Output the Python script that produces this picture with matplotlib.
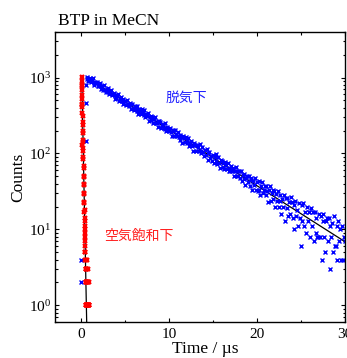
import numpy as np
import matplotlib
matplotlib.use("Agg")
import matplotlib.pyplot as plt
from matplotlib.ticker import LogLocator, MultipleLocator, NullFormatter

plt.rcParams['font.family'] = ['Liberation Serif', 'DejaVu Serif']
plt.rcParams['mathtext.fontset'] = 'custom'
plt.rcParams['mathtext.rm'] = 'Liberation Serif'
plt.rcParams['mathtext.it'] = 'Liberation Serif:italic'

# ---------------- data ----------------
title = "BTP in MeCN"
xlabel = "Time / µs"
ylabel = "Counts"
label_degassed = "脱気下"
label_air = "空気飽和下"

# degassed (blue) decay, sampled every 0.1 us from 0.6 to 30.0 us
blue_t_start, blue_t_stop, blue_t_step = 0.6, 30.0, 0.1
blue_counts = [
    972, 1025, 910, 971,
    992, 865, 932, 980, 848, 791, 888, 840, 883, 771,
    766, 840, 702, 773, 783, 696, 800, 695, 648, 712,
    735, 649, 605, 666, 698, 588, 608, 628, 523, 590,
    541, 581, 600, 491, 542, 559, 493, 449, 521, 488,
    499, 439, 515, 447, 427, 463, 443, 388, 448, 396,
    369, 418, 392, 420, 364, 331, 392, 367, 336, 386,
    349, 319, 371, 302, 333, 308, 337, 271, 299, 309,
    277, 304, 254, 288, 300, 252, 256, 266, 222, 270,
    261, 214, 241, 244, 217, 255, 211, 201, 222, 205,
    196, 220, 195, 172, 205, 197, 169, 203, 180, 168,
    193, 164, 176, 150, 165, 137, 168, 160, 141, 167,
    137, 151, 162, 124, 137, 147, 125, 109, 137, 129,
    129, 107, 131, 120, 108, 132, 108, 100, 120, 104,
    93, 110, 97, 113, 82, 101, 104, 86, 93, 79,
    96, 75, 89, 80, 98, 72, 90, 76, 65, 81,
    79, 67, 74, 62, 78, 71, 63, 76, 58, 65,
    58, 69, 59, 64, 51, 59, 66, 50, 58, 51,
    59, 48, 59, 43, 52, 46, 53, 38, 47, 50,
    42, 51, 37, 45, 47, 33, 43, 38, 48, 33,
    42, 32, 43, 33, 28, 37, 42, 30, 33, 37,
    28, 37, 32, 23, 33, 37, 24, 30, 25, 33,
    32, 20, 29, 24, 32, 20, 24, 28, 16, 25,
    20, 28, 13, 26, 19, 26, 15, 23, 16, 27,
    23, 14, 21, 10, 24, 15, 18, 11, 22, 14,
    6, 21, 13, 22, 11, 17, 9, 20, 13, 17,
    17, 8, 19, 11, 17, 7, 17, 9, 14, 8,
    8, 16, 8, 15, 4, 13, 16, 8, 5, 13,
    14, 7, 14, 3, 11, 8, 12, 5, 15, 6,
    6, 11, 4, 13, 7, 10, 4, 11, 4, 8,
    7,
]
# blue points before / during the rise
blue_rise_time = [0.0, 0.02, 0.55, 0.56, 0.57]
blue_rise_counts = [4, 2, 145, 465, 790]

# air-saturated (red) decay, sampled every 0.01 us from 0.03 to 0.90 us
red_t_start, red_t_stop, red_t_step = 0.03, 0.90, 0.01
red_counts = [
    130, 430, 810, 1005, 905, 770, 695,
    590, 531, 449, 409, 343, 312, 262, 241, 201, 185,
    152, 142, 117, 109, 89, 84, 68, 64, 51, 49,
    40, 38, 30, 29, 23, 22, 17, 18, 13, 14,
    10, 11, 8, 9, 6, 7, 5, 4, 5, 3,
    4, 2, 3, 2, 1, 2, 1, 3, 1, 0,
    2, 1, 4, 0, 1, 2, 0, 1, 3, 0,
    1, 0, 2, 1, 0, 1, 3, 0, 0, 1,
    2, 0, 1, 0, 0, 2, 1, 0, 1, 0,
    1,
]

# single-exponential fits (amplitude, lifetime in us, start, end)
blue_fit_amp, blue_fit_tau, blue_fit_t0, blue_fit_t1 = 1120.0, 5.9, 0.6, 30.0
red_fit_amp, red_fit_tau, red_fit_tshift, red_fit_t0, red_fit_t1 = 1020.0, 0.075, 0.06, 0.06, 0.62

xticks = [0, 10, 20, 30]

# ---------------- figure ----------------
fig = plt.figure(figsize=(3.47, 3.58), dpi=100)
ax = fig.add_axes([54.5 / 347, 36 / 358, (344.5 - 54.5) / 347, (326 - 36) / 358])

blue_time = np.round(np.arange(blue_t_start, blue_t_stop + blue_t_step / 2, blue_t_step), 3)
red_time = np.round(np.arange(red_t_start, red_t_stop + red_t_step / 2, red_t_step), 3)
bc = np.array(blue_counts, dtype=float)
rc = np.array(red_counts, dtype=float)

# fit lines (below markers)
tb = np.linspace(blue_fit_t0, blue_fit_t1, 300)
ax.plot(tb, blue_fit_amp * np.exp(-tb / blue_fit_tau), color='black', lw=0.9, zorder=1)
tr = np.linspace(red_fit_t0, red_fit_t1, 200)
ax.plot(tr, red_fit_amp * np.exp(-(tr - red_fit_tshift) / red_fit_tau), color='black', lw=0.9, zorder=1)

m = bc > 0
ax.plot(blue_time[m], bc[m], ls='none', marker='x', color='#0000ff', ms=3.2, mew=1.0, zorder=2)
ax.plot(blue_rise_time, blue_rise_counts, ls='none', marker='x', color='#0000ff', ms=3.2, mew=1.0, zorder=2)
m = rc > 0
ax.plot(red_time[m], rc[m], ls='none', marker='x', color='#ff0000', ms=3.2, mew=1.6, zorder=3)

ax.set_yscale('log')
ax.set_xlim(-3.05, 30)
ax.set_ylim(0.6, 4000)

ax.set_xticks(xticks)
ax.xaxis.set_minor_locator(MultipleLocator(5))
ax.yaxis.set_major_locator(LogLocator(base=10, numticks=10))
ax.yaxis.set_minor_locator(LogLocator(base=10, subs=np.arange(2, 10), numticks=20))
ax.yaxis.set_minor_formatter(NullFormatter())

ax.tick_params(which='both', direction='in', top=True, right=True, width=0.8)
ax.tick_params(which='major', length=3.2, labelsize=11)
ax.tick_params(axis='y', which='major', pad=2.5)
ax.tick_params(axis='x', which='major', pad=4)
ax.tick_params(which='minor', length=1.8)
for s in ax.spines.values():
    s.set_linewidth(1.0)

ax.set_xlabel(xlabel, fontsize=12.5)
ax.xaxis.set_label_coords(0.519, -0.066)
ax.set_ylabel(ylabel, fontsize=12.5)
ax.yaxis.set_label_coords(-0.098, 0.5)
fig.text(58 / 347, 1 - 21 / 358, title, fontsize=12.5, ha='left', va='center')

cjk = ['Noto Sans CJK JP', 'DejaVu Sans']
ax.text(0.384, 0.772, label_degassed, transform=ax.transAxes, fontsize=10,
        color='#2020ff', family=cjk, va='center', ha='left')
ax.text(0.172, 0.297, label_air, transform=ax.transAxes, fontsize=10,
        color='#ff2020', family=cjk, va='center', ha='left')

fig.savefig('out.png', dpi=100)
